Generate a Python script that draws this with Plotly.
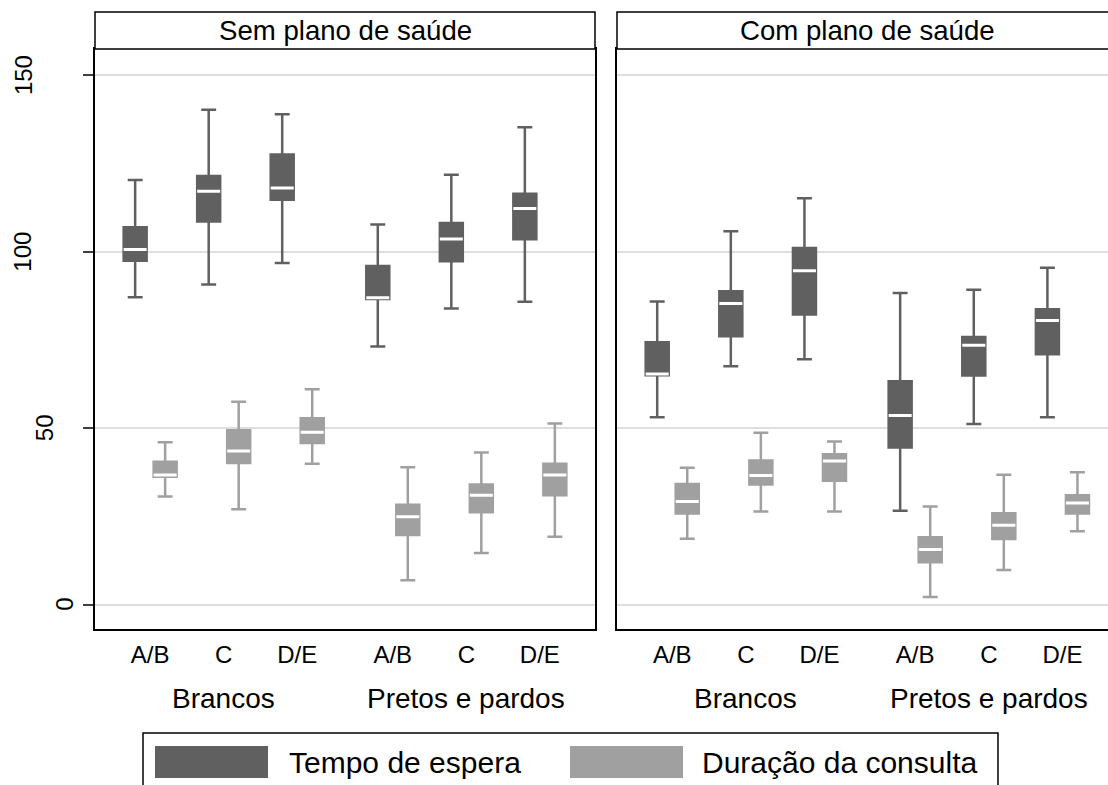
import plotly.graph_objects as go

# ---------------- data ----------------
panels = ["Sem plano de saúde", "Com plano de saúde"]
groups = ["Brancos", "Pretos e pardos"]
levels = ["A/B", "C", "D/E"]
series = ["Tempo de espera", "Duração da consulta"]
yticks = [0, 50, 100, 150]

# order within each panel: Brancos A/B, C, D/E, Pretos e pardos A/B, C, D/E
sem_tempo_lower = [87.1, 90.7, 96.8, 73.1, 83.9, 85.8]
sem_tempo_q1 = [97.4, 108.5, 114.7, 86.6, 97.3, 103.5]
sem_tempo_median = [100.6, 117.1, 118.0, 86.9, 103.6, 112.2]
sem_tempo_q3 = [106.9, 121.4, 127.5, 95.9, 108.1, 116.4]
sem_tempo_upper = [120.3, 140.2, 138.9, 107.7, 121.8, 135.2]

sem_dur_lower = [30.6, 27.0, 39.9, 6.9, 14.6, 19.2]
sem_dur_q1 = [36.2, 40.1, 45.8, 19.7, 26.2, 31.0]
sem_dur_median = [36.7, 43.5, 48.8, 24.9, 31.0, 36.7]
sem_dur_q3 = [40.5, 49.4, 52.8, 28.3, 34.0, 39.9]
sem_dur_upper = [46.0, 57.5, 61.0, 38.9, 43.1, 51.3]

com_tempo_lower = [53.1, 67.5, 69.5, 26.6, 51.2, 53.1]
com_tempo_q1 = [65.0, 76.0, 82.2, 44.5, 64.9, 70.9]
com_tempo_median = [65.3, 85.3, 94.6, 53.6, 73.5, 80.5]
com_tempo_q3 = [74.3, 88.8, 101.0, 63.3, 75.8, 83.7]
com_tempo_upper = [85.9, 105.8, 115.1, 88.3, 89.2, 95.4]

com_dur_lower = [18.7, 26.4, 26.4, 2.2, 9.8, 20.8]
com_dur_q1 = [25.8, 34.0, 35.1, 12.0, 18.6, 25.8]
com_dur_median = [29.2, 36.6, 40.7, 15.6, 22.5, 28.8]
com_dur_q3 = [34.2, 40.8, 42.6, 19.1, 25.9, 31.0]
com_dur_upper = [38.8, 48.7, 46.2, 27.8, 36.8, 37.5]

stats = [
    [  # Sem plano
        (sem_tempo_lower, sem_tempo_q1, sem_tempo_median, sem_tempo_q3, sem_tempo_upper),
        (sem_dur_lower, sem_dur_q1, sem_dur_median, sem_dur_q3, sem_dur_upper),
    ],
    [  # Com plano
        (com_tempo_lower, com_tempo_q1, com_tempo_median, com_tempo_q3, com_tempo_upper),
        (com_dur_lower, com_dur_q1, com_dur_median, com_dur_q3, com_dur_upper),
    ],
]

# ---------------- style ----------------
colors = ["#606060", "#a0a0a0"]
FONT = "Liberation Sans, Arial, Helvetica, sans-serif"
W, H = 1108, 785
ML, MT, MB = 95, 49, 156
PW = W - ML               # paper plotting width
PH = H - MT - MB          # plot height (580)
GROUP_STEP = 3.3          # spacing between groups in axis units

xpos = [g * GROUP_STEP + l for g in range(len(groups)) for l in range(len(levels))]
xtext = [lv for _ in groups for lv in levels]

fig = go.Figure()

for p in range(len(panels)):
    xa = "x" if p == 0 else "x2"
    ya = "y" if p == 0 else "y2"
    for s, name in enumerate(series):
        lo, q1, med, q3, up = stats[p][s]
        fig.add_trace(go.Box(
            x=xpos, q1=q1, median=med, q3=q3, lowerfence=lo, upperfence=up,
            name=name, offsetgroup=str(s), fillcolor=colors[s],
            line=dict(color=colors[s], width=2.5), whiskerwidth=0.65,
            boxpoints=False, showlegend=False, hoverinfo="skip",
            xaxis=xa, yaxis=ya,
        ))
    for s, name in enumerate(series):
        med = stats[p][s][2]
        fig.add_trace(go.Box(
            x=xpos, q1=med, median=med, q3=med, lowerfence=med, upperfence=med,
            name=name + " mediana", offsetgroup=str(s), fillcolor="white",
            line=dict(color="white", width=3), whiskerwidth=0,
            boxpoints=False, showlegend=False, hoverinfo="skip",
            xaxis=xa, yaxis=ya,
        ))

d1 = [0, 500 / PW]
d2 = [(617 - ML) / PW, 1.0]
unit_px = 73.5

axis_common = dict(
    showline=True, linecolor="black", linewidth=1.5, zeroline=False,
    showgrid=False, ticks="", tickfont=dict(size=24, color="black", family=FONT),
    tickvals=xpos, ticktext=xtext, ticklabelstandoff=3,
)
yrange = [-6.9, 157.4]
y_common = dict(
    range=yrange, tickvals=yticks, showticklabels=False, showgrid=True,
    gridcolor="#dedede", gridwidth=1.5, zeroline=False, showline=True,
    linecolor="black", linewidth=1.5,
)

fig.update_layout(
    width=W, height=H,
    margin=dict(l=ML, r=0, t=MT, b=MB, pad=0),
    paper_bgcolor="white", plot_bgcolor="white",
    boxmode="group", boxgap=0.184, boxgroupgap=0.234,
    font=dict(family=FONT, color="black"),
    showlegend=False,
    xaxis=dict(domain=d1, range=[-0.75, 6.05], anchor="y", mirror=True, **axis_common),
    xaxis2=dict(domain=d2, range=[-0.75, 5.3 + 45.5 / unit_px], anchor="y2", mirror=True, **axis_common),
    yaxis=dict(domain=[0, 1], anchor="x", mirror=True, ticks="outside", ticklen=10,
               tickwidth=1.5, tickcolor="#404040", **y_common),
    yaxis2=dict(domain=[0, 1], anchor="x2", matches="y", mirror=False, ticks="", **y_common),
)

shapes = []
annotations = []

# panel headers
hdr_top = 1 + 37 / PH
right_ext = 500 / (W - 617)
for p, (xr, yr, x1) in enumerate([("x domain", "y domain", 1.0), ("x2 domain", "y2 domain", right_ext)]):
    shapes.append(dict(type="rect", xref=xr, yref=yr, x0=0, x1=x1, y0=1, y1=hdr_top,
                       line=dict(color="black", width=1.5), fillcolor="white", layer="above"))
    annotations.append(dict(text=panels[p], xref=xr, yref=yr, x=x1 / 2, y=(1 + hdr_top) / 2,
                            showarrow=False, xanchor="center", yanchor="middle",
                            font=dict(size=27.6, color="black", family=FONT)))

# group labels under the tick labels
for p, xr in enumerate(["x", "x2"]):
    for g, gname in enumerate(groups):
        center = g * GROUP_STEP + (len(levels) - 1) / 2
        annotations.append(dict(text=gname, xref=xr, yref="paper", x=center,
                                y=-(698 - (H - MB)) / PH, showarrow=False,
                                xanchor="center", yanchor="middle",
                                font=dict(size=28, color="black", family=FONT)))

# y tick labels (rotated, staggered like the original)
for v in yticks:
    lab = str(v)
    cx = 23 + 21 * (3 - len(lab))
    annotations.append(dict(text=lab, xref="paper", yref="y", x=(cx - ML) / PW, y=v,
                            textangle=-90, showarrow=False, xanchor="center", yanchor="middle",
                            font=dict(size=24, color="black", family=FONT)))

# legend
def px_x(px):
    return (px - ML) / PW

def px_y(py):
    return (H - MB - py) / PH

shapes.append(dict(type="rect", xref="paper", yref="paper", x0=px_x(143), x1=px_x(998),
                   y0=px_y(733), y1=px_y(800), line=dict(color="black", width=1.5),
                   fillcolor="white"))
for s, (sx, tx) in enumerate([(155, 287), (570, 700)]):
    shapes.append(dict(type="rect", xref="paper", yref="paper", x0=px_x(sx), x1=px_x(sx + 113),
                       y0=px_y(746), y1=px_y(778), line=dict(width=0), fillcolor=colors[s]))
    annotations.append(dict(text=series[s], xref="paper", yref="paper", x=px_x(tx), y=px_y(762),
                            showarrow=False, xanchor="left", yanchor="middle",
                            font=dict(size=30, color="black", family=FONT)))

fig.update_layout(shapes=shapes, annotations=annotations)
fig.write_html(
    "out.html",
    config={"displayModeBar": False},
    post_script="document.body.style.margin='0px';document.body.style.overflow='hidden';",
)
